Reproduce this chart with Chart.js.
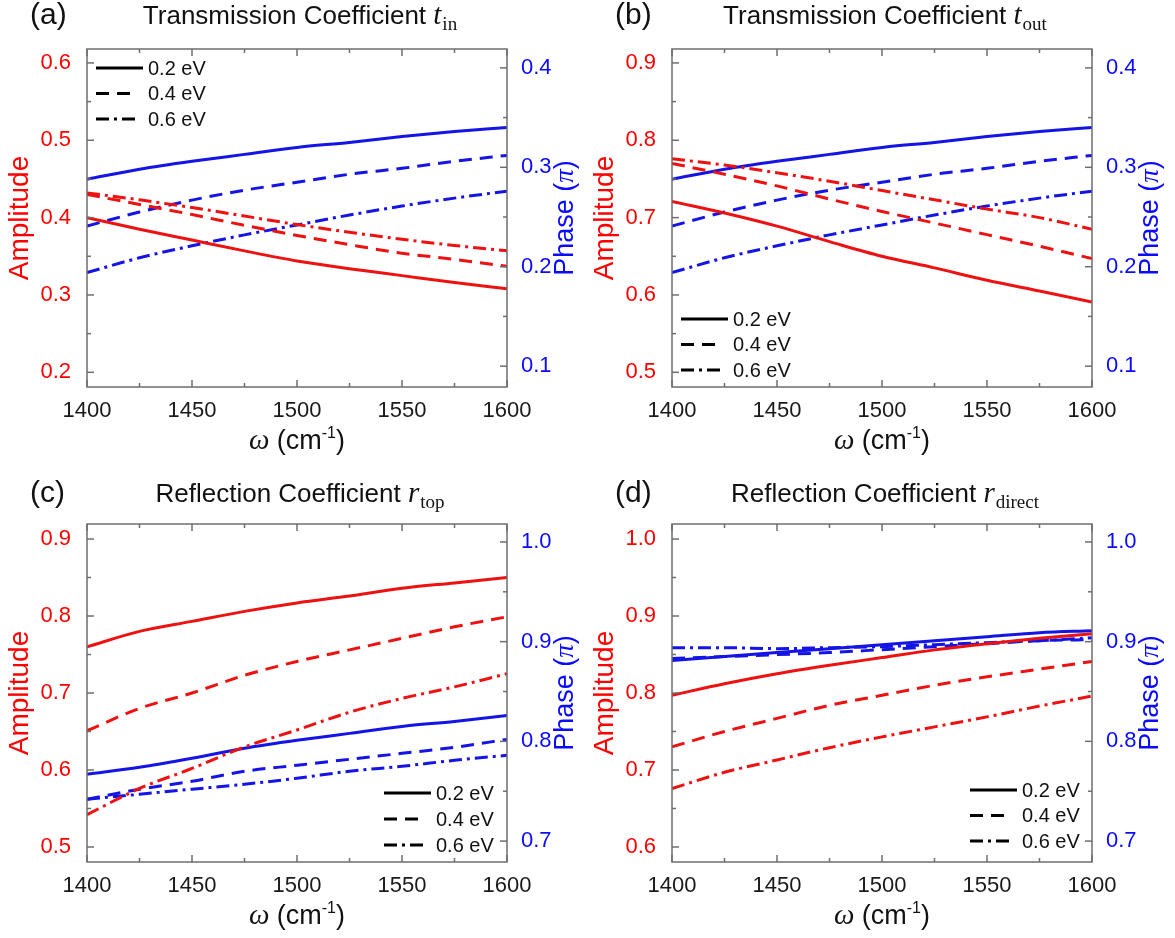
<!DOCTYPE html>
<html>
<head>
<meta charset="utf-8">
<script src="https://cdn.jsdelivr.net/npm/chart.js@4.4.0/dist/chart.umd.min.js"></script>
<style>
    html, body { margin: 0; padding: 0; background: #fff; overflow: hidden; }
    #wrap { position: relative; width: 1175px; height: 938px; }
    .panel { position: absolute; width: 587px; height: 463px; }
</style>
</head>
<body>
<div id="wrap">
    <div class="panel" style="left:0;top:0"><canvas id="pa" width="587" height="463"></canvas></div>
    <div class="panel" style="left:585px;top:0"><canvas id="pb" width="587" height="463"></canvas></div>
    <div class="panel" style="left:0;top:475px"><canvas id="pc" width="587" height="463"></canvas></div>
    <div class="panel" style="left:585px;top:475px"><canvas id="pd" width="587" height="463"></canvas></div>
</div>
<script>
// frequency samples (cm^-1) and tick values
const omega = [1400, 1425, 1450, 1475, 1500, 1525, 1550, 1575, 1600];
const omegaTicks = [1400, 1450, 1500, 1550, 1600];
const energies = ['0.2 eV', '0.4 eV', '0.6 eV'];

// (a) t_in
const tinAmp02 = [0.400, 0.385, 0.371, 0.357, 0.344, 0.334, 0.325, 0.316, 0.308];
const tinAmp04 = [0.430, 0.417, 0.404, 0.390, 0.377, 0.365, 0.354, 0.346, 0.337];
const tinAmp06 = [0.432, 0.423, 0.413, 0.402, 0.391, 0.381, 0.372, 0.364, 0.357];
const tinPh02 = [0.288, 0.298, 0.306, 0.313, 0.320, 0.325, 0.331, 0.336, 0.340];
const tinPh04 = [0.241, 0.255, 0.267, 0.277, 0.285, 0.293, 0.299, 0.306, 0.312];
const tinPh06 = [0.194, 0.209, 0.221, 0.232, 0.242, 0.252, 0.261, 0.269, 0.276];

// (b) t_out
const toutAmp02 = [0.721, 0.706, 0.689, 0.669, 0.650, 0.635, 0.619, 0.605, 0.591];
const toutAmp04 = [0.770, 0.756, 0.741, 0.724, 0.708, 0.693, 0.678, 0.663, 0.647];
const toutAmp06 = [0.776, 0.768, 0.758, 0.747, 0.735, 0.723, 0.711, 0.700, 0.685];
const toutPh02 = [0.288, 0.298, 0.306, 0.313, 0.320, 0.325, 0.331, 0.336, 0.340];
const toutPh04 = [0.241, 0.255, 0.267, 0.277, 0.285, 0.293, 0.299, 0.306, 0.312];
const toutPh06 = [0.194, 0.209, 0.221, 0.232, 0.242, 0.252, 0.261, 0.269, 0.276];

// (c) r_top
const rtopAmp02 = [0.760, 0.780, 0.793, 0.806, 0.817, 0.826, 0.836, 0.843, 0.850];
const rtopAmp04 = [0.651, 0.680, 0.700, 0.723, 0.741, 0.756, 0.771, 0.786, 0.799];
const rtopAmp06 = [0.542, 0.576, 0.602, 0.630, 0.652, 0.675, 0.693, 0.708, 0.725];
const rtopPh02 = [0.767, 0.774, 0.783, 0.793, 0.801, 0.808, 0.815, 0.820, 0.826];
const rtopPh04 = [0.742, 0.752, 0.760, 0.770, 0.776, 0.782, 0.788, 0.794, 0.802];
const rtopPh06 = [0.742, 0.747, 0.752, 0.757, 0.763, 0.770, 0.775, 0.781, 0.786];

// (d) r_direct
const rdirAmp02 = [0.797, 0.812, 0.825, 0.836, 0.846, 0.856, 0.864, 0.871, 0.877];
const rdirAmp04 = [0.730, 0.750, 0.767, 0.784, 0.797, 0.810, 0.821, 0.831, 0.841];
const rdirAmp06 = [0.676, 0.697, 0.713, 0.729, 0.743, 0.756, 0.769, 0.783, 0.796];
const rdirPh02 = [0.881, 0.885, 0.889, 0.893, 0.897, 0.901, 0.905, 0.909, 0.911];
const rdirPh04 = [0.883, 0.885, 0.887, 0.889, 0.892, 0.895, 0.898, 0.901, 0.902];
const rdirPh06 = [0.894, 0.894, 0.893, 0.894, 0.895, 0.897, 0.899, 0.901, 0.904];

const RED = '#ee1111';
const BLUE = '#1414e6';
const RED_TXT = '#ff0000';
const BLUE_TXT = '#0a0aff';
const FRAME = '#6e6e6e';
const SANS = '"Liberation Sans", Arial, sans-serif';
const SERIF = '"Liberation Serif", "DejaVu Serif", serif';
const DASHES = [[], [13, 8], [13, 5, 3, 5]];

// frame, inward ticks, panel titles, axis titles and legend
const decor = {
    id: 'decor',
    afterDraw(chart, args, opts) {
        const { ctx, chartArea: a, scales } = chart;
        ctx.save();

        const seg = (x1, y1, x2, y2) => {
            ctx.beginPath(); ctx.moveTo(x1, y1); ctx.lineTo(x2, y2); ctx.stroke();
        };

        ctx.strokeStyle = FRAME;
        ctx.lineWidth = 1.5;
        ctx.strokeRect(a.left, a.top, a.right - a.left, a.bottom - a.top);

        for (let v = 1400; v <= 1600; v += 25) {
            const px = scales.x.getPixelForValue(v);
            const len = v % 50 === 0 ? 7 : 4;
            seg(px, a.bottom, px, a.bottom - len);
            seg(px, a.top, px, a.top + len);
        }
        const yTicks = (sc, side) => {
            const lo = Math.ceil(sc.min * 20 - 1e-6), hi = Math.floor(sc.max * 20 + 1e-6);
            for (let k = lo; k <= hi; k++) {
                const py = sc.getPixelForValue(k / 20);
                const len = k % 2 === 0 ? 7 : 4;
                if (side === 'left') seg(a.left, py, a.left + len, py);
                else seg(a.right, py, a.right - len, py);
            }
        };
        yTicks(scales.yL, 'left');
        yTicks(scales.yR, 'right');

        // panel title with math symbol
        ctx.fillStyle = '#111';
        ctx.textBaseline = 'alphabetic';
        ctx.font = `30px ${SANS}`;
        ctx.textAlign = 'left';
        ctx.fillText(opts.label, 30, opts.titleY);

        const mainFont = `26px ${SANS}`, symFont = `italic 29px ${SERIF}`, subFont = `19px ${SERIF}`;
        ctx.font = mainFont; const w1 = ctx.measureText(opts.title).width;
        ctx.font = symFont; const w2 = ctx.measureText(opts.sym).width;
        ctx.font = subFont; const w3 = ctx.measureText(opts.sub).width;
        let tx = (a.left + a.right) / 2 + 3 - (w1 + w2 + w3 + 1) / 2;
        ctx.font = mainFont; ctx.fillText(opts.title, tx, opts.titleY); tx += w1;
        ctx.font = symFont; ctx.fillText(opts.sym, tx, opts.titleY); tx += w2 + 1;
        ctx.font = subFont; ctx.fillText(opts.sub, tx, opts.titleY + 6);

        // x axis title: omega (cm^-1)
        const xf = `27px ${SANS}`, wf = `italic 29px ${SERIF}`, supf = `16px ${SANS}`;
        const parts = [[wf, '\u03c9 ', 0], [xf, '(cm', 0], [supf, '-1', -11], [xf, ')', 0]];
        let tw = 0;
        parts.forEach(p => { ctx.font = p[0]; p.push(ctx.measureText(p[1]).width); tw += p[3]; });
        let xx = (a.left + a.right) / 2 - tw / 2;
        const xBase = a.bottom + 62;
        parts.forEach(p => { ctx.font = p[0]; ctx.fillText(p[1], xx, xBase + p[2]); xx += p[3]; });

        // right axis title: Phase (pi), reading upwards
        ctx.save();
        ctx.translate(a.right + 59, (a.top + a.bottom) / 2);
        ctx.rotate(-Math.PI / 2);
        ctx.fillStyle = BLUE_TXT;
        ctx.textBaseline = 'middle';
        const rparts = [[`27px ${SANS}`, 'Phase ('], [`italic 27px ${SERIF}`, '\u03c0'], [`27px ${SANS}`, ')']];
        let rw = 0;
        rparts.forEach(p => { ctx.font = p[0]; p.push(ctx.measureText(p[1]).width); rw += p[2]; });
        let rx = -rw / 2;
        rparts.forEach(p => { ctx.font = p[0]; ctx.fillText(p[1], rx, 0); rx += p[2]; });
        ctx.restore();

        // legend
        const lg = opts.legend;
        ctx.strokeStyle = '#000';
        ctx.lineWidth = 3;
        ctx.fillStyle = '#111';
        ctx.font = `20px ${SANS}`;
        ctx.textBaseline = 'middle';
        energies.forEach((lab, i) => {
            const y = lg.y + i * lg.row;
            ctx.setLineDash(DASHES[i]);
            seg(lg.x, y, lg.x + lg.len[i], y);
            ctx.setLineDash([]);
            ctx.fillText(lab, lg.x + 52, y + 1);
        });
        ctx.restore();
    }
};

function lineSet(values, color, dashIdx, axis) {
    return {
        data: omega.map((w, i) => ({ x: w, y: values[i] })),
        borderColor: color,
        borderDash: DASHES[dashIdx],
        borderWidth: 3,
        pointRadius: 0,
        cubicInterpolationMode: 'monotone',
        fill: false,
        yAxisID: axis
    };
}

function makePanel(id, cfg) {
    const datasets = [
        lineSet(cfg.amp[0], RED, 0, 'yL'), lineSet(cfg.amp[1], RED, 1, 'yL'), lineSet(cfg.amp[2], RED, 2, 'yL'),
        lineSet(cfg.ph[0], BLUE, 0, 'yR'), lineSet(cfg.ph[1], BLUE, 1, 'yR'), lineSet(cfg.ph[2], BLUE, 2, 'yR')
    ];
    const tickFont = { family: SANS, size: 22 };
    new Chart(document.getElementById(id), {
        type: 'line',
        data: { datasets },
        options: {
            responsive: false,
            animation: false,
            devicePixelRatio: 1,
            layout: { padding: { top: 49, left: 0, right: 0, bottom: 0 } },
            plugins: {
                legend: { display: false },
                tooltip: { enabled: false },
                decor: cfg.decor
            },
            scales: {
                x: {
                    type: 'linear', min: 1400, max: 1600,
                    afterBuildTicks: s => { s.ticks = omegaTicks.map(v => ({ value: v })); },
                    afterFit: s => { s.height = 76; },
                    grid: { display: false }, border: { display: false },
                    ticks: { color: '#1a1a1a', font: tickFont, padding: 3, maxRotation: 0, autoSkip: false, callback: v => String(v) }
                },
                yL: {
                    position: 'left', min: cfg.ampRange[0], max: cfg.ampRange[1],
                    afterBuildTicks: s => { s.ticks = cfg.ampTicks.map(v => ({ value: v })); },
                    afterFit: s => { s.width = 87; },
                    grid: { display: false }, border: { display: false },
                    ticks: { color: RED_TXT, font: tickFont, padding: 8, callback: v => v.toFixed(1) },
                    title: { display: true, text: 'Amplitude', color: RED_TXT, font: { family: SANS, size: 28 }, padding: { top: 3, bottom: 0 } }
                },
                yR: {
                    position: 'right', min: cfg.phRange[0], max: cfg.phRange[1],
                    afterBuildTicks: s => { s.ticks = cfg.phTicks.map(v => ({ value: v })); },
                    afterFit: s => { s.width = 80; },
                    grid: { display: false }, border: { display: false },
                    ticks: { color: BLUE_TXT, font: tickFont, padding: 6, callback: v => v.toFixed(1) }
                }
            }
        },
        plugins: [decor]
    });
}

makePanel('pa', {
    amp: [tinAmp02, tinAmp04, tinAmp06], ph: [tinPh02, tinPh04, tinPh06],
    ampRange: [0.181, 0.618], ampTicks: [0.2, 0.3, 0.4, 0.5, 0.6],
    phRange: [0.079, 0.419], phTicks: [0.1, 0.2, 0.3, 0.4],
    decor: { label: '(a)', title: 'Transmission Coefficient ', sym: 't', sub: 'in', titleY: 24,
             legend: { x: 96, y: 68, row: 25.5, len: [47, 35, 41] } }
});
makePanel('pb', {
    amp: [toutAmp02, toutAmp04, toutAmp06], ph: [toutPh02, toutPh04, toutPh06],
    ampRange: [0.481, 0.918], ampTicks: [0.5, 0.6, 0.7, 0.8, 0.9],
    phRange: [0.079, 0.419], phTicks: [0.1, 0.2, 0.3, 0.4],
    decor: { label: '(b)', title: 'Transmission Coefficient ', sym: 't', sub: 'out', titleY: 24,
             legend: { x: 96, y: 319, row: 25.5, len: [47, 35, 41] } }
});
makePanel('pc', {
    amp: [rtopAmp02, rtopAmp04, rtopAmp06], ph: [rtopPh02, rtopPh04, rtopPh06],
    ampRange: [0.4805, 0.9195], ampTicks: [0.5, 0.6, 0.7, 0.8, 0.9],
    phRange: [0.679, 1.018], phTicks: [0.7, 0.8, 0.9, 1.0],
    decor: { label: '(c)', title: 'Reflection Coefficient ', sym: 'r', sub: 'top', titleY: 27,
             legend: { x: 384, y: 318, row: 26, len: [47, 35, 41] } }
});
makePanel('pd', {
    amp: [rdirAmp02, rdirAmp04, rdirAmp06], ph: [rdirPh02, rdirPh04, rdirPh06],
    ampRange: [0.5805, 1.0195], ampTicks: [0.6, 0.7, 0.8, 0.9, 1.0],
    phRange: [0.679, 1.018], phTicks: [0.7, 0.8, 0.9, 1.0],
    decor: { label: '(d)', title: 'Reflection Coefficient ', sym: 'r', sub: 'direct', titleY: 27,
             legend: { x: 385, y: 315, row: 25.5, len: [47, 35, 41] } }
});
</script>
</body>
</html>
